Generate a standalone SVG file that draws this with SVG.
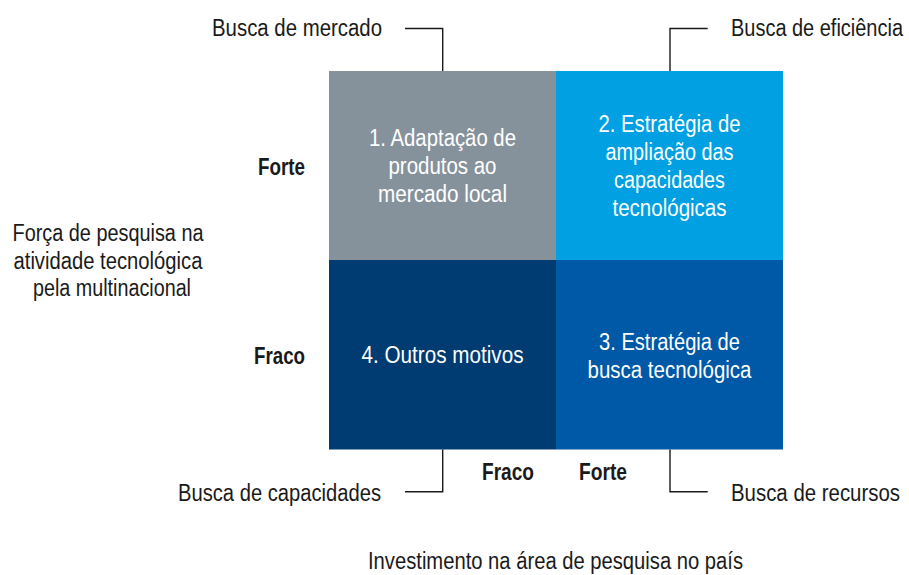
<svg xmlns="http://www.w3.org/2000/svg" width="909" height="575" viewBox="0 0 909 575">
<style>
text{font-family:"Liberation Sans Narrow","Liberation Sans",Arial,sans-serif;font-size:23px;fill:#1a1a1a}
.b{font-weight:bold}
.w{fill:#ffffff;text-anchor:middle}
.m{text-anchor:middle}
.lead{fill:none;stroke:#1a1a1a;stroke-width:1.4}
</style>
<rect width="909" height="575" fill="#ffffff"/>
<g id="q1">
<rect x="329" y="71" width="227" height="189" fill="#86929b"/>
<text class="w" x="442.5" y="145.5" textLength="147" lengthAdjust="spacingAndGlyphs">1. Adaptação de</text>
<text class="w" x="442.5" y="173.5" textLength="108" lengthAdjust="spacingAndGlyphs">produtos ao</text>
<text class="w" x="442.5" y="201.5" textLength="129" lengthAdjust="spacingAndGlyphs">mercado local</text>
</g>
<g id="q2">
<rect x="556" y="71" width="227" height="189" fill="#00a0e2"/>
<text class="w" x="669.5" y="131.5" textLength="142" lengthAdjust="spacingAndGlyphs">2. Estratégia de</text>
<text class="w" x="669.5" y="159.5" textLength="128" lengthAdjust="spacingAndGlyphs">ampliação das</text>
<text class="w" x="669.5" y="187.5" textLength="111" lengthAdjust="spacingAndGlyphs">capacidades</text>
<text class="w" x="669.5" y="215.5" textLength="114" lengthAdjust="spacingAndGlyphs">tecnológicas</text>
</g>
<g id="q3">
<rect x="556" y="260" width="227" height="189.5" fill="#0059a6"/>
<text class="w" x="669.5" y="349.5" textLength="141" lengthAdjust="spacingAndGlyphs">3. Estratégia de</text>
<text class="w" x="669.5" y="377.5" textLength="164" lengthAdjust="spacingAndGlyphs">busca tecnológica</text>
</g>
<g id="q4">
<rect x="329" y="260" width="227" height="189.5" fill="#003b72"/>
<text class="w" x="442.5" y="363" textLength="162" lengthAdjust="spacingAndGlyphs">4. Outros motivos</text>
</g>
<g id="connectors">
<path class="lead" d="M405,28.5 H442.7 V71"/>
<path class="lead" d="M707.7,28.5 H670 V71"/>
<path class="lead" d="M442.7,449.5 V491.7 H405"/>
<path class="lead" d="M670,449.5 V491.7 H707.7"/>
</g>
<g id="label-mercado"><text x="212" y="36" textLength="170" lengthAdjust="spacingAndGlyphs">Busca de mercado</text></g>
<g id="label-eficiencia"><text x="731" y="36" textLength="172" lengthAdjust="spacingAndGlyphs">Busca de eficiência</text></g>
<g id="label-capacidades"><text x="178" y="500.5" textLength="203" lengthAdjust="spacingAndGlyphs">Busca de capacidades</text></g>
<g id="label-recursos"><text x="731" y="500.5" textLength="169" lengthAdjust="spacingAndGlyphs">Busca de recursos</text></g>
<g id="axis-y">
<text class="b" x="258" y="174.5" textLength="47" lengthAdjust="spacingAndGlyphs">Forte</text>
<text class="b" x="254" y="363.5" textLength="51" lengthAdjust="spacingAndGlyphs">Fraco</text>
<text class="m" x="108" y="240.5" textLength="191" lengthAdjust="spacingAndGlyphs">Força de pesquisa na</text>
<text class="m" x="108" y="268.5" textLength="189" lengthAdjust="spacingAndGlyphs">atividade tecnológica</text>
<text class="m" x="112" y="296" textLength="158" lengthAdjust="spacingAndGlyphs">pela multinacional</text>
</g>
<g id="axis-x">
<text class="b" x="482" y="480" textLength="52" lengthAdjust="spacingAndGlyphs">Fraco</text>
<text class="b" x="579" y="480" textLength="48" lengthAdjust="spacingAndGlyphs">Forte</text>
<text class="m" x="555.5" y="569" textLength="375" lengthAdjust="spacingAndGlyphs">Investimento na área de pesquisa no país</text>
</g>
</svg>
